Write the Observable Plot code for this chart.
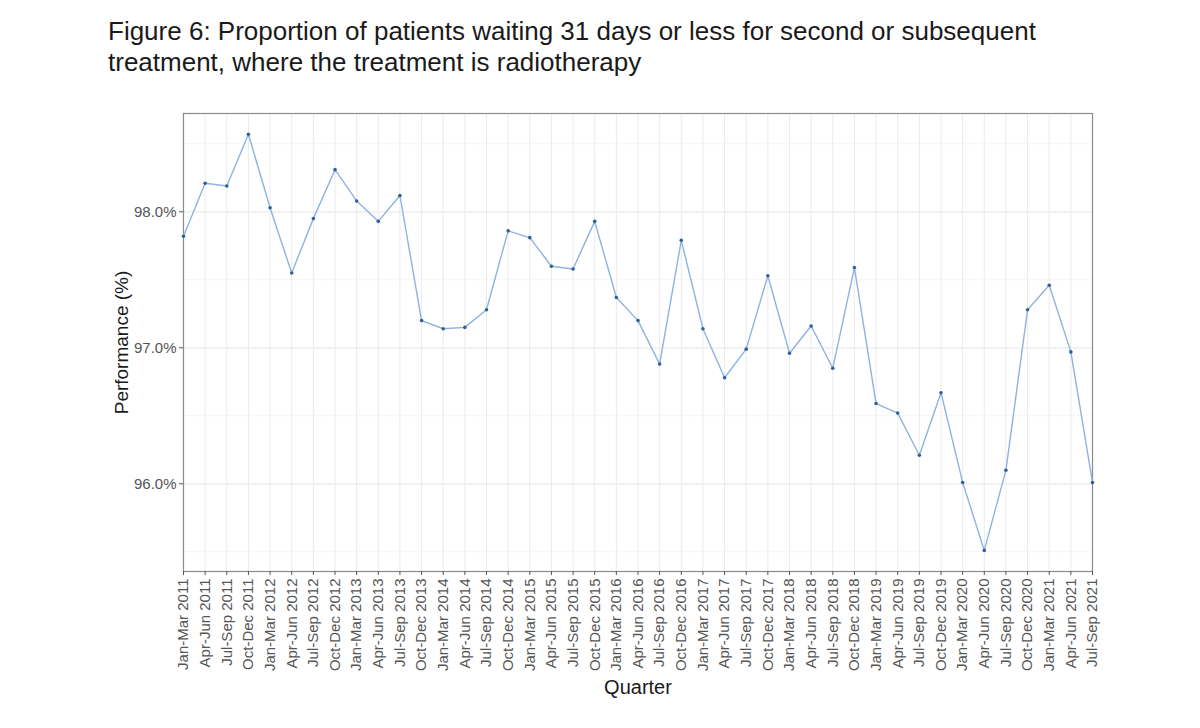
<!DOCTYPE html>
<html>
<head>
<meta charset="utf-8">
<script src="https://cdn.jsdelivr.net/npm/d3@7"></script>
<script src="https://cdn.jsdelivr.net/npm/@observablehq/plot@0.6"></script>
<style>
  html, body { margin: 0; padding: 0; background: #fff; }
  body { width: 1200px; height: 728px; overflow: hidden; font-family: "Liberation Sans", Arial, sans-serif; }
  #title { height: 95px; box-sizing: border-box; padding: 16px 0 0 108px; font-size: 26px; line-height: 31px; color: #1a1a1a; white-space: nowrap; }
  #chart svg { display: block; }
</style>
</head>
<body>
<div id="title">Figure 6: Proportion of patients waiting 31 days or less for second or subsequent<br>treatment, where the treatment is radiotherapy</div>
<div id="chart"></div>
<script>
const quarters = [
  "Jan-Mar 2011","Apr-Jun 2011","Jul-Sep 2011","Oct-Dec 2011",
  "Jan-Mar 2012","Apr-Jun 2012","Jul-Sep 2012","Oct-Dec 2012",
  "Jan-Mar 2013","Apr-Jun 2013","Jul-Sep 2013","Oct-Dec 2013",
  "Jan-Mar 2014","Apr-Jun 2014","Jul-Sep 2014","Oct-Dec 2014",
  "Jan-Mar 2015","Apr-Jun 2015","Jul-Sep 2015","Oct-Dec 2015",
  "Jan-Mar 2016","Apr-Jun 2016","Jul-Sep 2016","Oct-Dec 2016",
  "Jan-Mar 2017","Apr-Jun 2017","Jul-Sep 2017","Oct-Dec 2017",
  "Jan-Mar 2018","Apr-Jun 2018","Jul-Sep 2018","Oct-Dec 2018",
  "Jan-Mar 2019","Apr-Jun 2019","Jul-Sep 2019","Oct-Dec 2019",
  "Jan-Mar 2020","Apr-Jun 2020","Jul-Sep 2020","Oct-Dec 2020",
  "Jan-Mar 2021","Apr-Jun 2021","Jul-Sep 2021"
];
const performance = [
  97.82, 98.21, 98.19, 98.57,
  98.03, 97.55, 97.95, 98.31,
  98.08, 97.93, 98.12, 97.20,
  97.14, 97.15, 97.28, 97.86,
  97.81, 97.60, 97.58, 97.93,
  97.37, 97.20, 96.88, 97.79,
  97.14, 96.78, 96.99, 97.53,
  96.96, 97.16, 96.85, 97.59,
  96.59, 96.52, 96.21, 96.67,
  96.01, 95.51, 96.10, 97.28,
  97.46, 96.97, 96.01
];
const yTicks = [96, 97, 98];
const yMinor = [95.5, 96.5, 97.5, 98.5];

const data = quarters.map((q, i) => ({quarter: q, value: performance[i]}));

const chart = Plot.plot({
  width: 1200,
  height: 633,
  marginTop: 18,
  marginBottom: 157,
  marginLeft: 183,
  marginRight: 108,
  style: {fontFamily: "'Liberation Sans', Arial, sans-serif", background: "#fff"},
  x: {type: "point", domain: quarters, padding: 0, round: false, label: null},
  y: {domain: [95.355, 98.723], label: null},
  marks: [
    Plot.ruleY(yMinor, {stroke: "#f2f2f2", strokeWidth: 0.8}),
    Plot.ruleY(yTicks, {stroke: "#ebebeb", strokeWidth: 1.2}),
    Plot.ruleX(quarters, {x: d => d, stroke: "#ebebeb", strokeWidth: 1}),
    Plot.frame({stroke: "#8a8a8a", strokeWidth: 1.2}),
    Plot.axisY({ticks: yTicks, tickFormat: d => d.toFixed(1) + "%", tickSize: 4, tickPadding: 3, fontSize: 15, color: "#555", stroke: "#555", label: null}),
    Plot.axisX({tickRotate: -90, tickSize: 4, tickPadding: 3, fontSize: 15, color: "#555", stroke: "#555", label: null}),
    Plot.text(["Quarter"], {frameAnchor: "bottom", dy: 122, fontSize: 20, fill: "#1a1a1a"}),
    Plot.text(["Performance (%)"], {frameAnchor: "left", textAnchor: "middle", dx: -62, rotate: -90, fontSize: 19, fill: "#1a1a1a"}),
    Plot.line(data, {x: "quarter", y: "value", stroke: "#8db3df", strokeWidth: 1.4}),
    Plot.dot(data, {x: "quarter", y: "value", r: 1.8, fill: "#2f5f9c", stroke: "none"})
  ]
});
document.getElementById("chart").appendChild(chart);
</script>
</body>
</html>
